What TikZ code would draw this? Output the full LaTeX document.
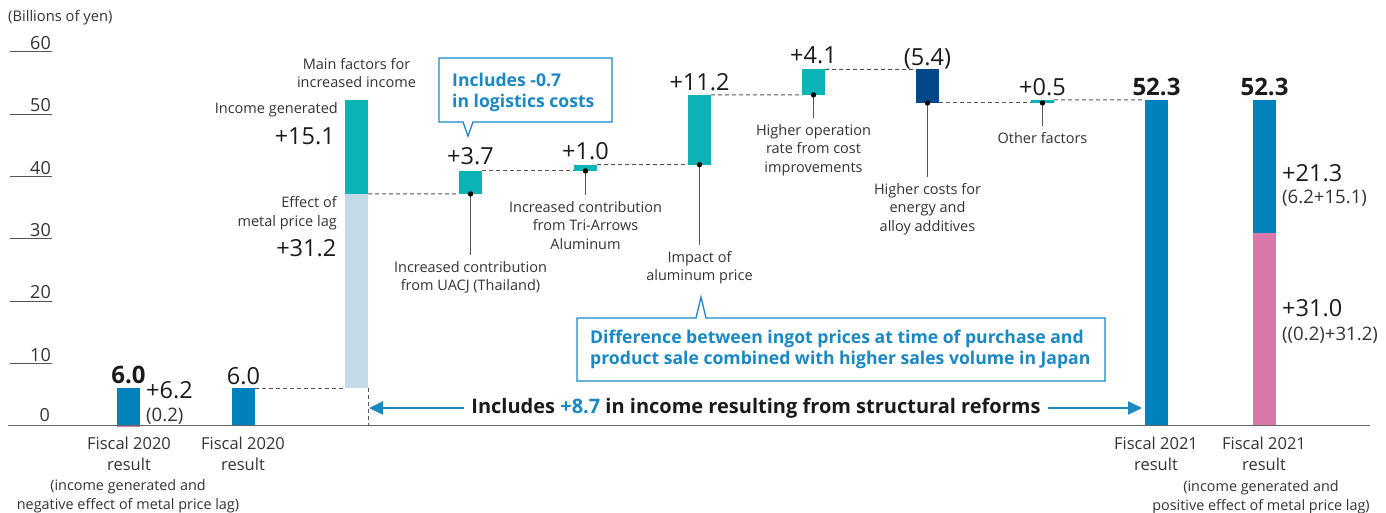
\documentclass[tikz,border=0pt]{standalone}
\usepackage{fontspec}
\setmainfont{Open Sans}
\usetikzlibrary{arrows.meta}
\definecolor{barteal}{HTML}{0BB3B6}
\definecolor{barpale}{HTML}{C3DAE7}
\definecolor{barblue}{HTML}{0081BB}
\definecolor{barnavy}{HTML}{00478A}
\definecolor{barpink}{HTML}{D977AB}
\definecolor{callblue}{HTML}{1A88C3}
\definecolor{inkgray}{HTML}{333333}
\definecolor{inkdark}{HTML}{1A1A1A}
\definecolor{rulegray}{HTML}{666666}
\definecolor{dashgray}{HTML}{555555}

\newcommand\fs[2]{\fontsize{#1}{#2}\selectfont}
% waterfall bar: name, colour, left x, bottom value, top value
\newcommand\wbar[5]{\node[bar, fill=#2, minimum height={6.23*((#5)-(#4))}] (#1) at (#3,{425.7-6.23*(#4)}) {};}

\begin{document}
\begin{tikzpicture}[x=1pt,y=-1pt,
  bar/.style={draw=none, inner sep=0pt, outer sep=0pt, minimum width=23pt, anchor=south west},
  axlbl/.style={text=inkgray, font=\fs{18}{20}, inner sep=0pt},
  tickline/.style={draw=dashgray, line width=1pt},
  lbl/.style={text=inkgray, font=\fs{14.5}{18.5}, align=center, inner sep=0pt},
  lblr/.style={text=inkgray, font=\fs{14.5}{19.3}, align=right, inner sep=0pt},
  cat/.style={text=inkgray, font=\fs{16.5}{20.7}, align=center, inner sep=0pt},
  catsub/.style={text=inkgray, font=\fs{14.4}{19}, align=center, inner sep=0pt},
  big/.style={text=inkdark, font=\fs{23.5}{25}, inner sep=0pt},
  bigb/.style={text=inkdark, font=\fs{24}{26}\bfseries, inner sep=0pt},
  mid/.style={text=inkgray, font=\fs{18.6}{20}, inner sep=0pt},
  dashline/.style={draw=dashgray, dash pattern=on 4pt off 3pt, line width=1pt},
  pin/.style={draw=dashgray, line width=1.2pt, shorten >=6pt},
  callout/.style={draw=callblue, line width=1.3pt, fill=white, line join=miter},
  calltext/.style={text=callblue, font=\fs{17.6}{21}\bfseries, align=left, inner sep=0pt},
  reformarrow/.style={draw=callblue, line width=2.2pt, -{Triangle[length=14pt,width=13pt]}},
]
\useasboundingbox (0,0) rectangle (1386,512);

% unit and value axis
\node[text=inkgray, font=\fs{14.7}{16}, inner sep=0pt, anchor=west] (unit) at (8,18) {(Billions of yen)};
\foreach \v in {10,20,...,60} {
  \draw[tickline] (10,{425.7-6.23*\v}) -- (52,{425.7-6.23*\v});
  \node[axlbl, anchor=south east] (t\v) at (51,{425.7-6.23*\v-2}) {\v};
}
\node[axlbl, anchor=south east] (t0) at (50,422) {0};

% bars
\wbar{b1}{barblue}{117}{0}{6.0}
\wbar{b2}{barblue}{232}{0}{6.0}
\wbar{b3lo}{barpale}{345}{6.0}{37.2}
\wbar{b3hi}{barteal}{345}{37.2}{52.3}
\wbar{b4}{barteal}{459}{37.2}{40.9}
\wbar{b5}{barteal}{574}{40.9}{41.9}
\wbar{b6}{barteal}{688}{41.9}{53.1}
\wbar{b7}{barteal}{802}{53.1}{57.2}
\wbar{b8}{barnavy}{916}{51.8}{57.2}
\wbar{b9}{barteal}{1031}{51.8}{52.3}
\wbar{b10}{barblue}{1145}{0}{52.3}
\wbar{b11lo}{barpink}{1253}{0}{31.0}
\wbar{b11hi}{barblue}{1253}{31.0}{52.3}

% baseline
\coordinate (axL) at (8,425.7);
\coordinate (axR) at (1370,425.7);
\draw[draw=rulegray, line width=1.3pt] (axL) -- (axR);
\wbar{b1neg}{barpink}{117}{-0.25}{0}

% dashed step connectors
\draw[dashline] (b2.north east) -- (b3lo.south west);
\draw[dashline] (b3lo.south east) -- (b3lo.south east |- axL);
\draw[dashline] (b3lo.north east) -- (b4.south west);
\draw[dashline] (b4.north east) -- (b5.south west);
\draw[dashline] (b5.north east) -- (b6.south west);
\draw[dashline] (b6.north east) -- (b7.south west);
\draw[dashline] (b7.north east) -- (b8.north west);
\draw[dashline] (b8.south east) -- (b9.south west);
\draw[dashline] (b9.north east) -- (b10.north west);

% values
\node[bigb, anchor=base] (v1) at (128.5,383) {6.0};
\node[big, anchor=base west] (v1a) at (146,398) {+6.2};
\node[mid, anchor=base west] (v1b) at (146,421) {(0.2)};
\node[big, anchor=base] (v2) at (243.5,384.5) {6.0};
\node[big, anchor=base] (v4) at (470.5,164.5) {+3.7};
\node[big, anchor=base] (v5) at (585.5,159) {+1.0};
\node[big, anchor=base] (v6) at (699.5,90) {+11.2};
\node[big, anchor=base] (v7) at (813.5,63.5) {+4.1};
\node[big, anchor=base] (v8) at (927.5,65.5) {(5.4)};
\node[big, anchor=base] (v9) at (1042.5,95) {+0.5};
\node[bigb, anchor=base] (v10) at (1156.5,95) {52.3};
\node[bigb, anchor=base] (v11) at (1264.5,95) {52.3};
\node[big, anchor=base west] (v11a) at (1282,181) {+21.3};
\node[mid, anchor=base west] (v11b) at (1282,203.5) {(6.2+15.1)};
\node[big, anchor=base west] (v11c) at (1282,316.5) {+31.0};
\node[mid, anchor=base west] (v11d) at (1282,340.5) {((0.2)+31.2)};

% labels at the stacked bar
\node[lbl, anchor=north] (mainf) at (356.5,58) {Main factors for\\increased income};
\node[lblr, anchor=north east] (incg) at (338,102) {Income generated};
\node[big, anchor=base east] (v3hi) at (335,144.5) {+15.1};
\node[lblr, anchor=north east] (lag) at (337,196) {Effect of\\metal price lag};
\node[big, anchor=base east] (v3lo) at (336.5,256.5) {+31.2};

% factor labels with pins
\node[lbl, anchor=north] (l4) at (470.5,261) {Increased contribution\\from UACJ (Thailand)};
\node[lbl, anchor=north] (l5) at (585.5,201) {Increased contribution\\from Tri-Arrows\\Aluminum};
\node[lbl, anchor=north] (l6) at (699.5,251) {Impact of\\aluminum price};
\node[lbl, anchor=north] (l7) at (813.5,124) {Higher operation\\rate from cost\\improvements};
\node[lbl, anchor=north] (l8) at (927.5,183) {Higher costs for\\energy and\\alloy additives};
\node[lbl, anchor=north] (l9) at (1042.5,132) {Other factors};
\foreach \b/\l in {b4/l4,b5/l5,b6/l6,b7/l7,b8/l8,b9/l9} {
  \draw[pin] (\b.south) -- (\l.north);
  \fill[black] (\b.south) circle (2.7pt);
}

% callouts
\draw[callout] (439,58) -- (612,58) -- (612,122) -- (473,122) -- (468,136) -- (463,122) -- (439,122) -- cycle;
\node[calltext, anchor=north west] (c1) at (452,73) {Includes -0.7\\in logistics costs};
\draw[callout] (577,318) -- (696,318) -- (701,297) -- (706,318) -- (1105,318) -- (1105,381) -- (577,381) -- cycle;
\node[calltext, anchor=north west] (c2) at (590,330) {Difference between ingot prices at time of purchase and\\product sale combined with higher sales volume in Japan};

% structural reform span
\node[text=inkdark, font=\fs{20}{22}\bfseries, inner ysep=0pt, inner xsep=7pt] (reform) at (756,408)
  {Includes \textcolor{callblue}{+8.7} in income resulting from structural reforms};
\coordinate (tipL) at (369,408);
\coordinate (tipR) at (1142,408);
\draw[reformarrow] (reform.west) -- (tipL);
\draw[reformarrow] (reform.east) -- (tipR);

% category labels
\node[cat, anchor=north] (f1) at (129,437) {Fiscal 2020\\result};
\node[catsub, anchor=north] (f1s) at (128,479) {(income generated and\\negative effect of metal price lag)};
\node[cat, anchor=north] (f2) at (243,437) {Fiscal 2020\\result};
\node[cat, anchor=north] (f3) at (1156,437) {Fiscal 2021\\result};
\node[cat, anchor=north] (f4) at (1264,437) {Fiscal 2021\\result};
\node[catsub, anchor=north] (f4s) at (1261,480) {(income generated and\\positive effect of metal price lag)};
\end{tikzpicture}
\end{document}
